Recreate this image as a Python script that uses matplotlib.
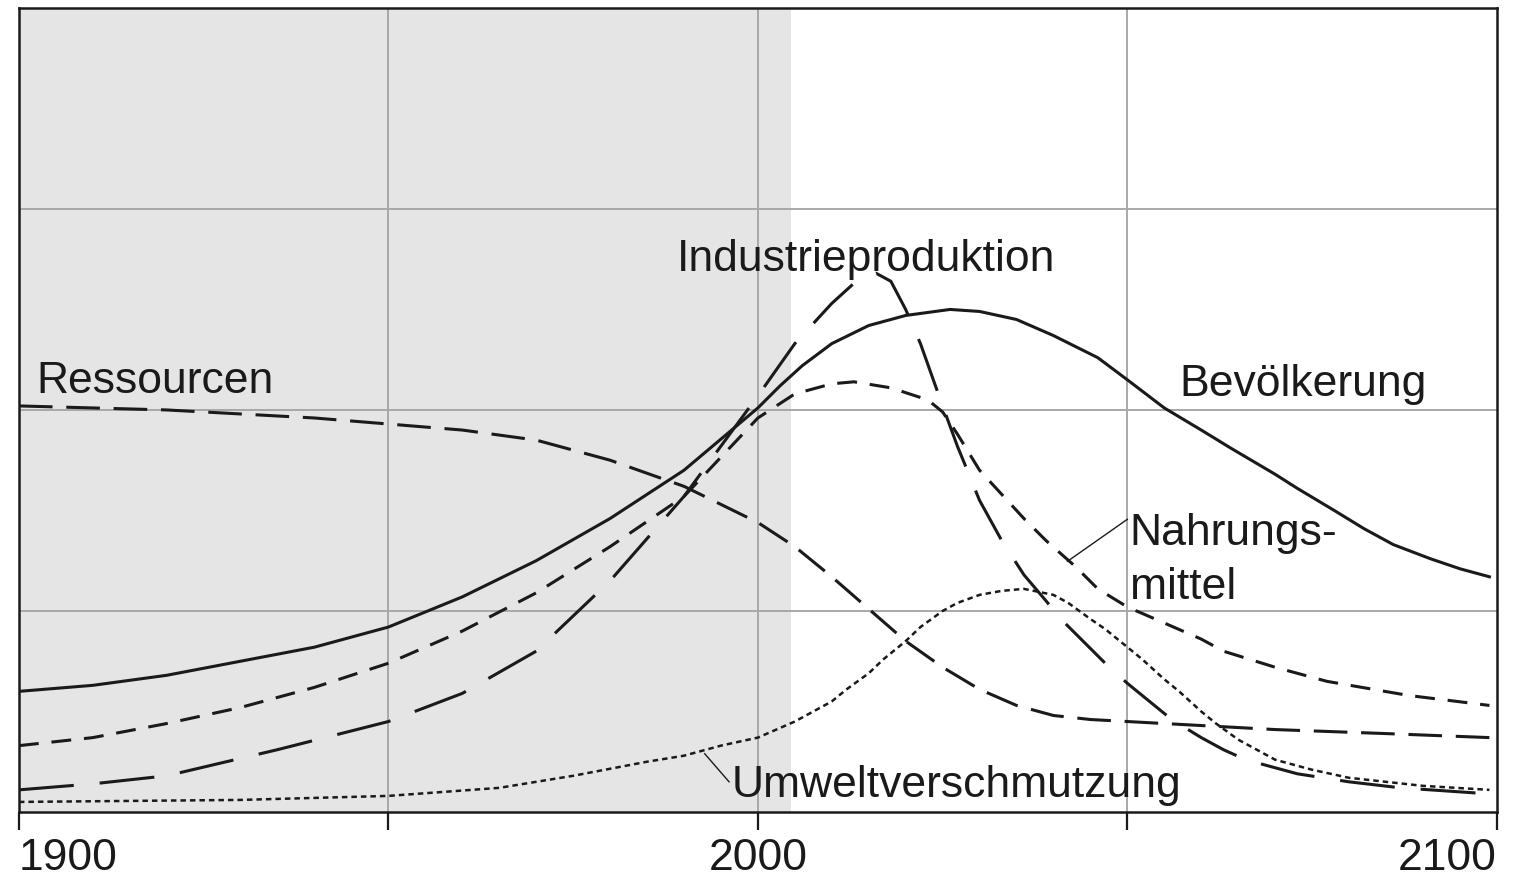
import matplotlib
matplotlib.use("Agg")
import matplotlib.pyplot as plt
import numpy as np

plt.rcParams['font.family'] = ['Liberation Sans', 'DejaVu Sans']

# values (y in grid units, 0..4)
bev_x = [1900, 1910, 1920, 1930, 1940, 1950, 1960, 1970, 1980, 1990, 2000, 2003, 2006, 2010, 2015,
         2020, 2026, 2030, 2035, 2040, 2046, 2050, 2055, 2060, 2064, 2070, 2073, 2078, 2082, 2086,
         2091, 2095, 2099]
bev_y = [0.60, 0.63, 0.68, 0.75, 0.82, 0.92, 1.07, 1.25, 1.46, 1.70, 2.01, 2.12, 2.22, 2.33, 2.42,
         2.47, 2.50, 2.49, 2.45, 2.37, 2.26, 2.15, 2.01, 1.90, 1.81, 1.68, 1.61, 1.50, 1.41, 1.33,
         1.26, 1.21, 1.17]

nahr_x = [1900, 1910, 1920, 1930, 1940, 1950, 1960, 1970, 1980, 1990, 2000, 2005, 2010, 2013, 2018,
          2023, 2025, 2027, 2030, 2033, 2036, 2039, 2043, 2046, 2050, 2055, 2060, 2063, 2070, 2077,
          2088, 2099]
nahr_y = [0.33, 0.37, 0.44, 0.52, 0.62, 0.74, 0.90, 1.09, 1.32, 1.57, 1.96, 2.08, 2.13, 2.14, 2.11,
          2.05, 1.99, 1.88, 1.70, 1.58, 1.46, 1.35, 1.22, 1.11, 1.02, 0.94, 0.86, 0.80, 0.72, 0.65,
          0.58, 0.53]

ind_x = [1900, 1910, 1920, 1935, 1950, 1960, 1970, 1980, 1990, 2000, 2005, 2008, 2010, 2013, 2016,
         2018, 2020, 2022, 2025, 2027, 2030, 2033, 2036, 2039, 2041, 2044, 2047, 2050, 2053, 2056,
         2060, 2063, 2066, 2070, 2073, 2080, 2087, 2099]
ind_y = [0.11, 0.14, 0.18, 0.31, 0.45, 0.59, 0.80, 1.15, 1.57, 2.07, 2.33, 2.45, 2.53, 2.63, 2.68,
         2.64, 2.50, 2.33, 2.02, 1.82, 1.55, 1.35, 1.18, 1.05, 0.96, 0.85, 0.74, 0.64, 0.55, 0.46,
         0.37, 0.31, 0.26, 0.22, 0.19, 0.15, 0.12, 0.09]

res_x = [1900, 1910, 1920, 1930, 1940, 1950, 1960, 1970, 1980, 1990, 2000, 2005, 2010, 2015, 2020,
         2025, 2030, 2035, 2040, 2045, 2050, 2060, 2070, 2085, 2099]
res_y = [2.02, 2.01, 2.00, 1.98, 1.96, 1.93, 1.90, 1.85, 1.75, 1.62, 1.44, 1.32, 1.17, 1.01, 0.85,
         0.72, 0.61, 0.53, 0.48, 0.46, 0.45, 0.43, 0.41, 0.39, 0.37]

umw_x = [1900, 1930, 1950, 1965, 1975, 1985, 1990, 1995, 2000, 2005, 2010, 2012, 2015, 2017, 2020,
         2022, 2025, 2027, 2030, 2033, 2036, 2040, 2042, 2045, 2047, 2050, 2052, 2055, 2057, 2060,
         2062, 2065, 2067, 2070, 2075, 2080, 2085, 2090, 2099]
umw_y = [0.05, 0.06, 0.08, 0.12, 0.18, 0.25, 0.28, 0.33, 0.37, 0.45, 0.55, 0.61, 0.69, 0.76, 0.85,
         0.92, 1.00, 1.04, 1.08, 1.10, 1.11, 1.08, 1.04, 0.96, 0.91, 0.82, 0.76, 0.66, 0.60, 0.50,
         0.44, 0.36, 0.32, 0.26, 0.21, 0.17, 0.15, 0.13, 0.11]

years = [1900, 1950, 2000, 2050, 2100]
year_labels = ['1900', '', '2000', '', '2100']

fig = plt.figure(figsize=(15.15, 8.8), dpi=100)
ax = fig.add_axes([0.0125, 0.0773, 0.9755, 0.9137])

ax.axvspan(1900, 2004.5, color='#e5e5e5', lw=0, zorder=0)
for gx in [1950, 2000, 2050]:
    ax.axvline(gx, color='#a8a8a8', lw=1.4, zorder=1)
for gy in [1, 2, 3]:
    ax.axhline(gy, color='#a8a8a8', lw=1.4, zorder=1)

k = '#1a1a1a'
ax.plot(bev_x, bev_y, color=k, lw=2.2, zorder=3, solid_joinstyle='round')
ax.plot(nahr_x, nahr_y, color=k, lw=2.2, ls=(0, (6.5, 4.2)), zorder=3)
ax.plot(ind_x, ind_y, color=k, lw=2.2, ls=(0, (18, 8.5)), zorder=3)
ax.plot(res_x, res_y, color=k, lw=2.2, ls=(0, (11, 4.5)), zorder=3)
ax.plot(umw_x, umw_y, color=k, lw=1.8, ls=(0, (2.2, 1.6)), zorder=3)

# labels
fs = 32
ax.text(1902.3, 2.085, 'Ressourcen', fontsize=fs, color=k, va='baseline')
ax.text(1989.0, 2.69, 'Industrieproduktion', fontsize=fs, color=k, va='baseline')
ax.text(2057.1, 2.07, 'Bevölkerung', fontsize=fs, color=k, va='baseline')
ax.text(2050.3, 1.33, 'Nahrungs-', fontsize=fs, color=k, va='baseline')
ax.text(2050.3, 1.06, 'mittel', fontsize=fs, color=k, va='baseline')
ax.text(1996.5, 0.075, 'Umweltverschmutzung', fontsize=fs, color=k, va='baseline')
ax.plot([2041.9, 2050.0], [1.247, 1.456], color=k, lw=1.0, zorder=3)
ax.plot([1992.8, 1996.1], [0.29, 0.15], color=k, lw=1.0, zorder=3)

ax.set_xlim(1900, 2100)
ax.set_ylim(0, 4)
ax.set_xticks(years)
ax.set_xticklabels(year_labels, fontsize=fs, color=k)
labs = ax.get_xticklabels()
labs[0].set_ha('left')
labs[-1].set_ha('right')
ax.set_yticks([])
ax.tick_params(axis='x', direction='out', length=13, width=1.6, pad=6, color=k)
for s in ax.spines.values():
    s.set_linewidth(1.8)
    s.set_color(k)

fig.savefig('out.png', dpi=100)
